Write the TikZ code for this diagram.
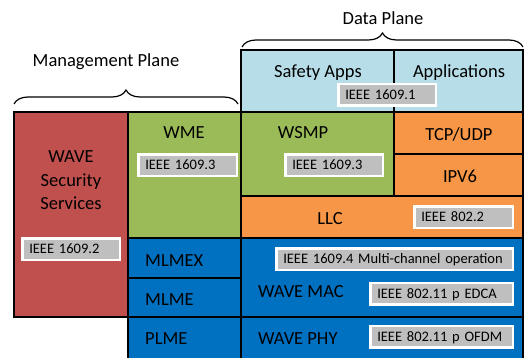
\documentclass[tikz,border=0pt]{standalone}
\usepackage{fontspec}
\setmainfont{Carlito}
\usetikzlibrary{decorations.pathreplacing}

\definecolor{secred}{HTML}{C0504D}
\definecolor{mgmtgreen}{HTML}{9BBB59}
\definecolor{netorange}{HTML}{F79646}
\definecolor{macblue}{HTML}{0070C0}
\definecolor{appblue}{HTML}{B7DEE8}
\definecolor{labgrey}{HTML}{BFBFBF}

\begin{document}
\begin{tikzpicture}[x=1pt,y=-1pt,
  layer/.style={draw=black,line width=1.8pt},
  big/.style={inner sep=0pt,font=\fontsize{18.5}{23.5}\selectfont},
  ieee/.style={fill=labgrey,draw=white,line width=2.5pt,anchor=west,
    inner xsep=7pt,inner ysep=0pt,minimum height=21.5pt,
    text height=9.3pt,text depth=0pt,align=left,
    font=\fontsize{14.5}{16}\selectfont},
  planebrace/.style={decorate,decoration={brace,amplitude=14pt},line width=1.2pt}]

\useasboundingbox (0,0) rectangle (526,358);

% Define coordinates
\coordinate (mgl) at (14,104);   %ends of management brace
\coordinate (mgr) at (238,104);
\coordinate (dpl) at (242,47);   %ends of data brace
\coordinate (dpr) at (523,47);

% Application layer
\draw[layer,fill=appblue] (241,50) rectangle (523,112);
\draw[layer] (394,50) -- (394,112);

% Security
\draw[layer,fill=secred] (14,112) rectangle (128,317);

% WME and WSMP
\draw[layer,fill=mgmtgreen] (128,112) rectangle (241,238);
\draw[layer,fill=mgmtgreen] (241,112) rectangle (394,196);

% TCP/UDP, IPV6, LLC
\draw[layer,fill=netorange] (394,112) rectangle (523,154);
\draw[layer,fill=netorange] (394,154) rectangle (523,196);
\draw[layer,fill=netorange] (241,196) rectangle (523,238);

% MAC and PHY
\draw[layer,fill=macblue] (128,238) rectangle (241,278);
\draw[layer,fill=macblue] (128,278) rectangle (241,317);
\fill[macblue] (128,317) rectangle (241,358);
\draw[layer] (128,358) -- (128,317) -- (241,317) -- (241,358);
\draw[layer,fill=macblue] (241,238) rectangle (523,317);
\fill[macblue] (241,317) rectangle (523,358);
\draw[layer] (241,358) -- (241,317) -- (523,317) -- (523,358);

% Braces and plane names
\draw[planebrace] (mgl) -- (mgr);
\draw[planebrace] (dpl) -- (dpr);
\node[big,anchor=base] (mgmt) at (106,67) {Management Plane};
\node[big,anchor=base] (data) at (383,25) {Data Plane};

% Layer names
\node[big,anchor=base] (safety) at (318,77.5) {Safety Apps};
\node[big,anchor=base] (apps) at (459,77.5) {Applications};
\node[big,align=center] (sec) at (71,180.5) {WAVE\\Security\\Services};
\node[big,anchor=base] (wme) at (184,139) {WME};
\node[big,anchor=base] (wsmp) at (303,139) {WSMP};
\node[big,anchor=base] (tcp) at (459,140) {TCP/UDP};
\node[big,anchor=base] (ipv6) at (460,182) {IPV6};
\node[big,anchor=base] (llc) at (330,224) {LLC};
\node[big,anchor=base west] (mlmex) at (145,266) {MLMEX};
\node[big,anchor=base west] (mlme) at (145,305) {MLME};
\node[big,anchor=base west] (plme) at (145,344) {PLME};
\node[big,anchor=base west] (mac) at (258,297) {WAVE MAC};
\node[big,anchor=base west] (phy) at (258,344) {WAVE PHY};

% Standard labels
\node[ieee,text width=83.5pt] (std1) at (337,95) {IEEE 1609.1};
\node[ieee,text width=84.5pt] (std3a) at (137,165) {IEEE 1609.3};
\node[ieee,text width=83.5pt] (std3b) at (284,165) {IEEE 1609.3};
\node[ieee,text width=83.5pt] (std2) at (21,249) {IEEE 1609.2};
\node[ieee,text width=84.5pt] (llcstd) at (413,217) {IEEE 802.2};
\node[ieee,text width=222.5pt] (std4) at (275,259) {IEEE 1609.4 Multi-channel operation};
\node[ieee,text width=128.5pt] (edca) at (369,293.5) {IEEE 802.11 p EDCA};
\node[ieee,text width=128.5pt] (ofdm) at (369,336.5) {IEEE 802.11 p OFDM};

\end{tikzpicture}
\end{document}
